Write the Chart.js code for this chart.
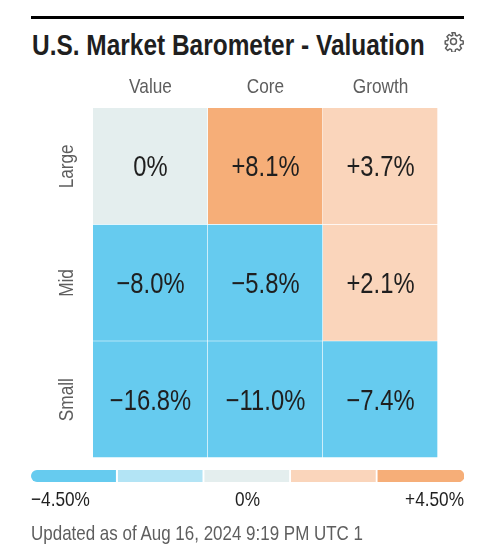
<!DOCTYPE html>
<html>
<head>
<meta charset="utf-8">
<script src="https://cdn.jsdelivr.net/npm/chart.js@4/dist/chart.umd.min.js"></script>
<style>
  html, body { margin: 0; padding: 0; background: #fff; }
  body { width: 493px; height: 546px; position: relative; overflow: hidden; font-family: "Liberation Sans", sans-serif; }
  #rule { position: absolute; left: 31px; top: 16px; width: 433px; height: 3px; background: #000; }
  #title { position: absolute; left: 32px; top: 27px; font-size: 29px; line-height: 36px; font-weight: 700; color: #1f1f1f; white-space: nowrap; transform: scaleX(0.843); transform-origin: left center; }
  #gear { position: absolute; left: 443px; top: 31px; }
  #updated { position: absolute; left: 31px; top: 521px; font-size: 21px; line-height: 24px; color: #5e5e5e; white-space: nowrap; transform: scaleX(0.808); transform-origin: left center; }
  canvas { position: absolute; left: 0; }
  #gridChart { top: 70px; }
  #scaleChart { top: 464px; }
</style>
</head>
<body>
<div id="rule"></div>
<div id="title">U.S. Market Barometer - Valuation</div>
<svg id="gear" width="21" height="21" viewBox="0 0 24 24" fill="none" stroke="#5e5e5e" stroke-width="1.7" stroke-linejoin="round">
  <circle cx="12" cy="12" r="3.4"/>
  <path d="M10.2 2h3.6l.5 2.9 1.9.8 2.4-1.7 2.5 2.5-1.7 2.4.8 1.9 2.9.5v3.6l-2.9.5-.8 1.9 1.7 2.4-2.5 2.5-2.4-1.7-1.9.8-.5 2.9h-3.6l-.5-2.9-1.9-.8-2.4 1.7-2.5-2.5 1.7-2.4.8-1.9-2.9-.5v-3.6l2.9-.5.8-1.9-1.7-2.4 2.5-2.5 2.4 1.7 1.9-.8z"/>
</svg>
<canvas id="gridChart" width="493" height="395"></canvas>
<canvas id="scaleChart" width="493" height="58"></canvas>
<div id="updated">Updated as of Aug 16, 2024 9:19 PM UTC 1</div>

<script>
const styles = ["Value", "Core", "Growth"];
const sizes = ["Large", "Mid", "Small"];
const largeValues = [0, 8.1, 3.7];
const midValues = [-8.0, -5.8, 2.1];
const smallValues = [-16.8, -11.0, -7.4];

const bandEdges = [-4.5, -2.7, -0.9, 0.9, 2.7, 4.5];
const bandColors = ["#66cbef", "#b3e4f5", "#e4eeee", "#fad5bb", "#f6ae78"];
const colorLimits = [-4.5, -1.5, 1.5, 4.5];
const scaleTicks = [-4.5, 0, 4.5];

const labelFont = "Liberation Sans";
const condense = 0.82; // no condensed font installed, so squeeze the text

function bandColor(v) {
  for (let i = 0; i < colorLimits.length; i++) {
    if (v < colorLimits[i]) return bandColors[i];
  }
  return bandColors[bandColors.length - 1];
}

function formatCell(v) {
  if (v === 0) return "0%";
  return (v > 0 ? "+" : "\u2212") + Math.abs(v).toFixed(1) + "%";
}

function formatScale(v) {
  if (v === 0) return "0%";
  return (v > 0 ? "+" : "\u2212") + Math.abs(v).toFixed(2) + "%";
}

function drawText(ctx, text, x, y, size, color, align, angle) {
  ctx.save();
  ctx.translate(x, y);
  if (angle) ctx.rotate(angle);
  ctx.scale(condense, 1);
  ctx.font = size + "px '" + labelFont + "'";
  ctx.fillStyle = color;
  ctx.textAlign = align || "center";
  ctx.textBaseline = "middle";
  ctx.fillText(text, 0, 0);
  ctx.restore();
}

const gridText = {
  id: "gridText",
  afterDatasetsDraw(chart) {
    const ctx = chart.ctx;
    chart.data.datasets.forEach((ds, d) => {
      chart.getDatasetMeta(d).data.forEach((bar, i) => {
        drawText(ctx, formatCell(ds.cellValues[i]), bar.x, (bar.y + bar.base) / 2 + 2, 29, "#1f1f1f");
      });
    });
    const x = chart.scales.x, y = chart.scales.y;
    x.ticks.forEach((t, i) => drawText(ctx, t.label, x.getPixelForTick(i), 17, 21, "#5e5e5e"));
    y.ticks.forEach((t, i) => drawText(ctx, t.label, 67, y.getPixelForTick(i), 21, "#5e5e5e", "center", -Math.PI / 2));
  }
};

const scaleText = {
  id: "scaleText",
  afterDatasetsDraw(chart) {
    const x = chart.scales.x;
    x.ticks.forEach((t, i) => {
      const align = i === 0 ? "left" : i === x.ticks.length - 1 ? "right" : "center";
      drawText(chart.ctx, t.label, x.getPixelForTick(i), 36, 21, "#1f1f1f", align);
    });
  }
};

// stacked from the bottom up, so Small comes first
const rowValues = [smallValues, midValues, largeValues];

new Chart(document.getElementById("gridChart"), {
  type: "bar",
  data: {
    labels: styles,
    datasets: rowValues.map(vals => ({
      data: vals.map(() => 1),
      cellValues: vals,
      backgroundColor: vals.map(bandColor),
      borderColor: "#ffffff",
      borderWidth: { right: 1, bottom: 1 },
      borderSkipped: false,
      barPercentage: 1,
      categoryPercentage: 1
    }))
  },
  plugins: [gridText],
  options: {
    responsive: false,
    animation: false,
    layout: { padding: { left: 0, top: 0, right: 55, bottom: 7 } },
    plugins: { legend: { display: false }, tooltip: { enabled: false } },
    scales: {
      x: {
        position: "top",
        stacked: true,
        afterFit(axis) { axis.height = 38; },
        grid: { display: false },
        border: { display: false },
        ticks: { display: false }
      },
      y: {
        stacked: true,
        min: 0,
        max: sizes.length,
        afterFit(axis) { axis.width = 93; },
        afterBuildTicks(axis) {
          axis.ticks = sizes.map((s, i) => ({ value: sizes.length - i - 0.5 }));
        },
        grid: { display: false },
        border: { display: false },
        ticks: { display: false, callback: (v, i) => sizes[i] }
      }
    }
  }
});

new Chart(document.getElementById("scaleChart"), {
  type: "bar",
  data: {
    labels: ["scale"],
    datasets: bandColors.map((color, i) => ({
      data: [[bandEdges[i], bandEdges[i + 1]]],
      backgroundColor: color,
      borderColor: "#ffffff",
      borderWidth: { right: i < bandColors.length - 1 ? 2 : 0 },
      borderSkipped: false,
      borderRadius: i === 0 ? { topLeft: 6, bottomLeft: 6 }
        : i === bandColors.length - 1 ? { topRight: 6, bottomRight: 6 } : 0,
      grouped: false,
      barPercentage: 1,
      categoryPercentage: 1
    }))
  },
  plugins: [scaleText],
  options: {
    indexAxis: "y",
    responsive: false,
    animation: false,
    layout: { padding: { left: 31, top: 6, right: 29, bottom: 0 } },
    plugins: { legend: { display: false }, tooltip: { enabled: false } },
    scales: {
      x: {
        min: bandEdges[0],
        max: bandEdges[bandEdges.length - 1],
        afterFit(axis) { axis.height = 40; },
        afterBuildTicks(axis) {
          axis.ticks = scaleTicks.map(v => ({ value: v }));
        },
        grid: { display: false },
        border: { display: false },
        ticks: { display: false, callback: v => formatScale(v) }
      },
      y: {
        display: false
      }
    }
  }
});
</script>
</body>
</html>
